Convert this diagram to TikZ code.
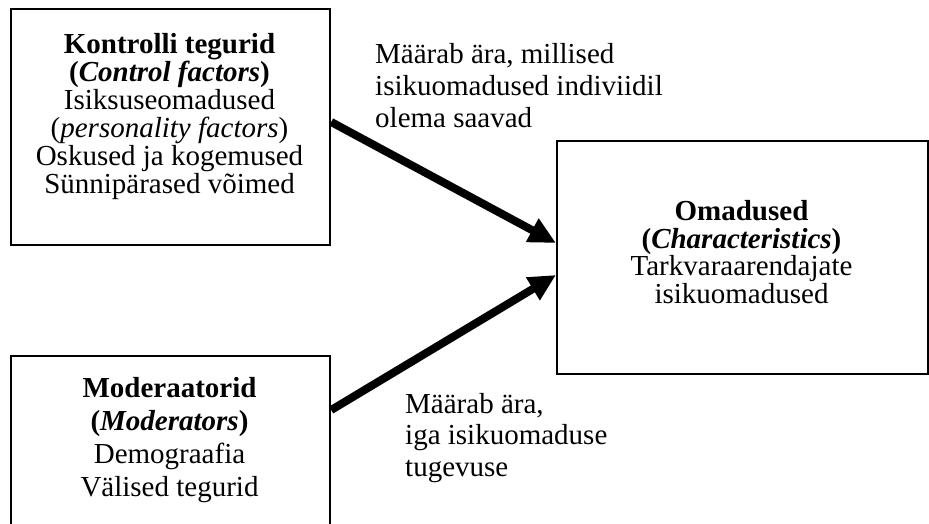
\documentclass[tikz,border=0pt]{standalone}
\usepackage{fontspec}
\setmainfont{Liberation Serif}
\usetikzlibrary{arrows.meta}
\begin{document}
\begin{tikzpicture}[x=1pt,y=-1pt,
  boxstyle/.style={draw, line width=2.2pt, inner sep=0pt, anchor=north west},
  txt/.style={inner sep=0pt, align=center, anchor=north},
  lbl/.style={inner sep=0pt, align=left, anchor=north west},
  bigarrow/.style={line width=8pt, -{Triangle[length=27pt,width=25pt]}}]
\useasboundingbox (0,0) rectangle (929,523);
\clip (0,0) rectangle (929,523);
% boxes
\node[boxstyle, minimum width=319pt, minimum height=236pt] (k) at (10,8) {};
\node[boxstyle, minimum width=319pt, minimum height=190pt] (m) at (10,355) {};
\node[boxstyle, minimum width=371pt, minimum height=233pt] (o) at (556,140) {};
% box texts
\node[txt, font=\fontsize{29}{28}\selectfont] (kt) at (169.5,33)
  {\textbf{Kontrolli tegurid}\\ \textbf{(\textit{Control factors})}\\ Isiksuseomadused\\ (\textit{personality factors})\\ Oskused ja kogemused\\ Sünnipärased võimed};
\node[txt, font=\fontsize{29}{33}\selectfont] (mt) at (169.5,377)
  {\textbf{Moderaatorid}\\ \textbf{(\textit{Moderators})}\\ Demograafia\\ Välised tegurid};
\node[txt, font=\fontsize{29}{27.7}\selectfont] (ot) at (741.5,200)
  {\textbf{Omadused}\\ \textbf{(\textit{Characteristics})}\\ Tarkvaraarendajate\\ isikuomadused};
% labels
\node[lbl, font=\fontsize{29}{32}\selectfont] (l1) at (375,43)
  {Määrab ära, millised\\ isikuomadused indiviidil\\ olema saavad};
\node[lbl, font=\fontsize{29}{31.5}\selectfont] (l2) at (405,393)
  {Määrab ära,\\ iga isikuomaduse\\ tugevuse};
% connectors
\coordinate (s1) at (k.east |- 0,122);
\coordinate (e1) at (o.west |- 0,243);
\coordinate (s2) at (m.east |- 0,410);
\coordinate (e2) at (o.west |- 0,275);
\draw[bigarrow] (s1) -- (e1);
\draw[bigarrow] (s2) -- (e2);
\end{tikzpicture}
\end{document}
